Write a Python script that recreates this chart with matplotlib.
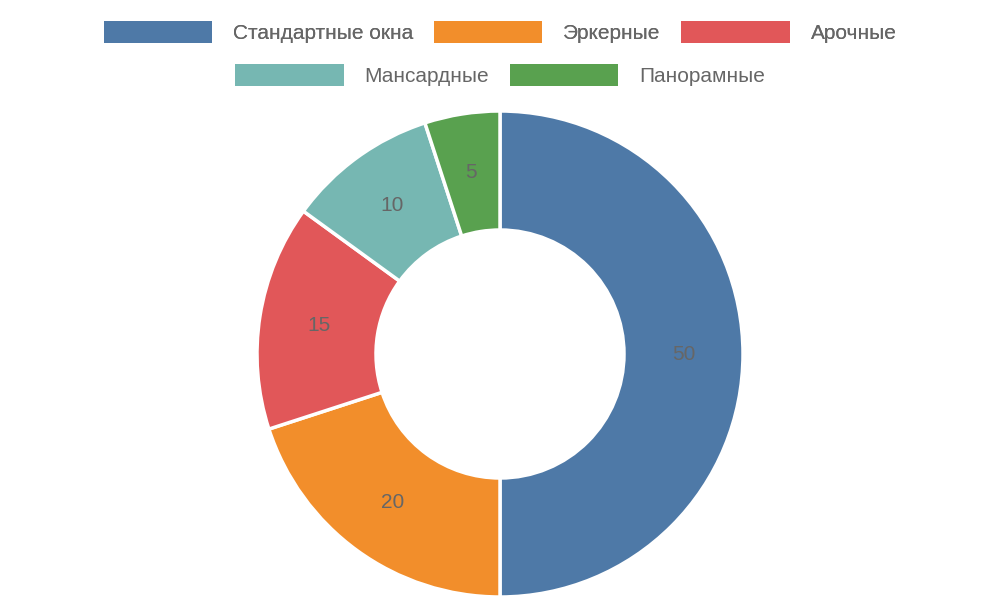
import matplotlib.pyplot as plt
from matplotlib.patches import Patch

labels = ["Стандартные окна", "Эркерные", "Арочные", "Мансардные", "Панорамные"]
values = [50, 20, 15, 10, 5]
colors = ["#4e79a7", "#f28e2b", "#e15759", "#76b7b2", "#59a14f"]

plt.rcParams['font.family'] = ['Liberation Sans', 'DejaVu Sans']
txt = "#666666"

fig = plt.figure(figsize=(10, 6), dpi=100)
r = 243
ax = fig.add_axes([(500 - r) / 1000, (600 - 354 - r) / 600, 2 * r / 1000, 2 * r / 600])
wedges, _ = ax.pie(values, colors=colors, startangle=90, counterclock=False, radius=1,
                   wedgeprops=dict(width=1 - 124 / 243, edgecolor="white", linewidth=2.5))
import numpy as np
total = sum(values)
ang = 90.0
for v in values:
    mid = np.deg2rad(ang - v / total * 180)
    ax.text(0.755 * np.cos(mid), 0.755 * np.sin(mid), str(v), ha="center", va="center",
            fontsize=15, color=txt)
    ang -= v / total * 360
ax.set_xlim(-1, 1)
ax.set_ylim(-1, 1)
ax.set_aspect("equal")
ax.axis("off")

handles = [Patch(facecolor=c, edgecolor="none") for c in colors]
common = dict(frameon=False, fontsize=15, labelcolor=txt, handlelength=5.2, handleheight=1.2,
              columnspacing=1.0, handletextpad=1.0, loc="center")
leg1 = fig.legend(handles[:3], labels[:3], ncol=3, bbox_to_anchor=(0.5, 1 - 32 / 600), **common)
fig.add_artist(leg1)
fig.legend(handles[3:], labels[3:], ncol=2, bbox_to_anchor=(0.5, 1 - 75 / 600), **common)

fig.savefig("out.png", dpi=100)
